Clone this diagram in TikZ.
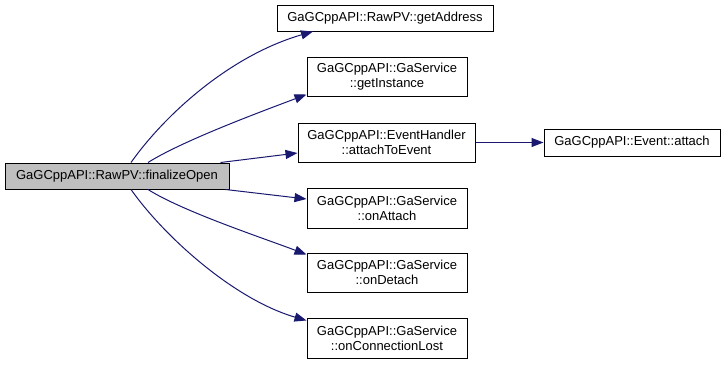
\documentclass[tikz,border=0pt]{standalone}
\usepackage{fontspec}
\setmainfont{Liberation Sans}
\usetikzlibrary{arrows.meta}
\definecolor{edgeblue}{HTML}{191970}
\definecolor{rootgrey}{HTML}{BFBFBF}
\tikzset{
  fnbox/.style={draw=black, line width=1pt, fill=white, rectangle, inner sep=0pt,
    align=center, font=\fontsize{13}{15}\selectfont, text=black},
  rootbox/.style={fnbox, fill=rootgrey},
  call/.style={draw=edgeblue, line width=1pt,
    -{Triangle[length=12pt,width=9pt]}, fill=none}
}
\begin{document}
\begin{tikzpicture}[x=1pt, y=-1pt]
\useasboundingbox (0,0) rectangle (728,364);

% caller
\node[rootbox, minimum width=224pt, minimum height=26pt] (root) at (117,176)
  {GaGCppAPI::RawPV::finalizeOpen};

% callees
\node[fnbox, minimum width=216pt, minimum height=26pt] (getaddr) at (385,18)
  {GaGCppAPI::RawPV::getAddress};
\node[fnbox, minimum width=160pt, minimum height=39pt] (getinst) at (387,76.5)
  {GaGCppAPI::GaService\\::getInstance};
\node[fnbox, minimum width=177pt, minimum height=39pt] (attachev) at (386.5,142.5)
  {GaGCppAPI::EventHandler\\::attachToEvent};
\node[fnbox, minimum width=160pt, minimum height=40pt] (onattach) at (387,208)
  {GaGCppAPI::GaService\\::onAttach};
\node[fnbox, minimum width=160pt, minimum height=39pt] (ondetach) at (387,272.5)
  {GaGCppAPI::GaService\\::onDetach};
\node[fnbox, minimum width=160pt, minimum height=40pt] (onlost) at (387,338)
  {GaGCppAPI::GaService\\::onConnectionLost};
\node[fnbox, minimum width=176pt, minimum height=27pt] (evattach) at (632,142.5)
  {GaGCppAPI::Event::attach};

% call edges
\draw[call] ([xshift=14pt]root.north) .. controls +(34,-48) and +(-83,24) ..
  ([xshift=-72pt]getaddr.south);
\draw[call] ([xshift=31pt]root.north) .. controls +(35,-22) and +(-45,17) ..
  ([yshift=2pt]getinst.south west);
\draw[call] ([xshift=-9pt]root.north east) -- ([yshift=-10.5pt]attachev.west);
\draw[call] ([xshift=-4pt]root.south east) -- ([yshift=9pt]onattach.west);
\draw[call] ([xshift=31pt]root.south) .. controls +(35,22) and +(-45,-17) ..
  ([yshift=-2pt]ondetach.north west);
\draw[call] ([xshift=14pt]root.south) .. controls +(34,48) and +(-72,-21) ..
  ([yshift=-3pt]onlost.north west);
\draw[call] (attachev.east) -- (evattach.west);
\end{tikzpicture}
\end{document}
